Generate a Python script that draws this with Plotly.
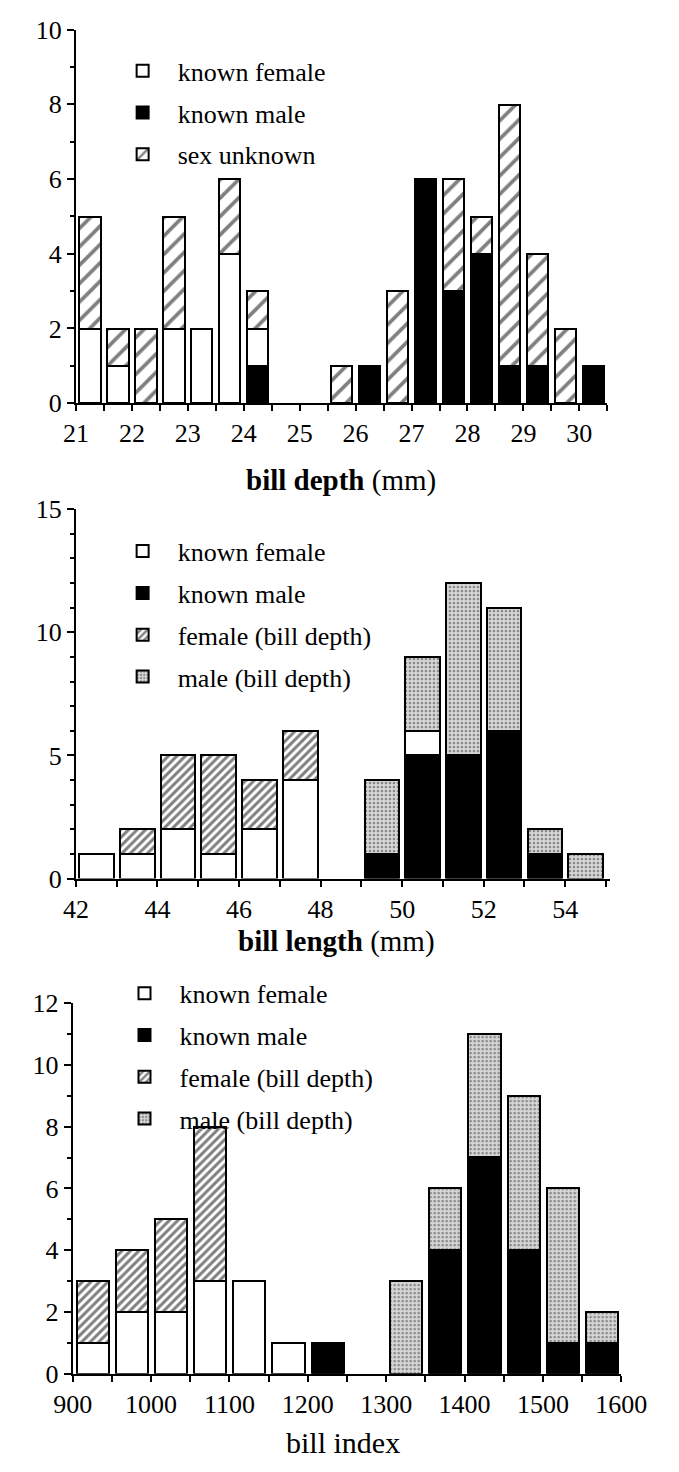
import plotly.graph_objects as go

# ---------------- data ----------------
depth_bins = [21.25, 21.75, 22.25, 22.75, 23.25, 23.75, 24.25, 24.75, 25.25, 25.75,
              26.25, 26.75, 27.25, 27.75, 28.25, 28.75, 29.25, 29.75, 30.25]
depth_female = [2, 1, 0, 2, 2, 4, 1, 0, 0, 0, 0, 0, 0, 0, 0, 0, 0, 0, 0]
depth_male = [0, 0, 0, 0, 0, 0, 1, 0, 0, 0, 1, 0, 6, 3, 4, 1, 1, 0, 1]
depth_unknown = [3, 1, 2, 3, 0, 2, 1, 0, 0, 1, 0, 3, 0, 3, 1, 7, 3, 2, 0]

length_bins = [42.5, 43.5, 44.5, 45.5, 46.5, 47.5, 48.5, 49.5, 50.5, 51.5, 52.5, 53.5, 54.5]
length_female = [1, 1, 2, 1, 2, 4, 0, 0, 1, 0, 0, 0, 0]
length_male = [0, 0, 0, 0, 0, 0, 0, 1, 5, 5, 6, 1, 0]
length_female_bd = [0, 1, 3, 4, 2, 2, 0, 0, 0, 0, 0, 0, 0]
length_male_bd = [0, 0, 0, 0, 0, 0, 0, 3, 3, 7, 5, 1, 1]

index_bins = [925, 975, 1025, 1075, 1125, 1175, 1225, 1275, 1325, 1375, 1425, 1475, 1525, 1575]
index_female = [1, 2, 2, 3, 3, 1, 0, 0, 0, 0, 0, 0, 0, 0]
index_male = [0, 0, 0, 0, 0, 0, 1, 0, 0, 4, 7, 4, 1, 1]
index_female_bd = [2, 2, 3, 5, 0, 0, 0, 0, 0, 0, 0, 0, 0, 0]
index_male_bd = [0, 0, 0, 0, 0, 0, 0, 0, 3, 2, 4, 5, 5, 1]

# ---------------- helpers ----------------
W, H = 679, 1472
FONT = "Liberation Serif"


def px(x):
    return x / W


def py(y):
    return 1 - y / H


def nz(vals):
    return [v if v else None for v in vals]


STYLES = {
    "male": dict(color="black"),
    "female": dict(color="white"),
    "hatch_sparse": dict(color="white", pattern=dict(shape="/", fgcolor="black", bgcolor="white",
                                                    size=13, solidity=0.28)),
    "hatch": dict(color="white", pattern=dict(shape="/", fgcolor="black", bgcolor="white",
                                             size=6, solidity=0.5)),
    "dots": dict(color="#d0d0d0", pattern=dict(shape=".", fgcolor="#333333", bgcolor="#d6d6d6",
                                              size=4, solidity=0.3)),
}

fig = go.Figure()


def add(x, y, name, style, xa, ya, legend, width, rank):
    st = STYLES[style]
    marker = dict(color=st["color"], line=dict(color="black", width=2))
    if "pattern" in st:
        marker["pattern"] = st["pattern"]
    fig.add_trace(go.Bar(x=x, y=nz(y), name=name, marker=marker, xaxis=xa, yaxis=ya,
                         width=width, legend=legend, legendgroup=legend + str(rank),
                         legendrank=rank, showlegend=True))


# top panel (stack: male, female, unknown)
add(depth_bins, depth_male, "known male", "male", "x", "y", "legend", 0.38, 2)
add(depth_bins, depth_female, "known female", "female", "x", "y", "legend", 0.38, 1)
add(depth_bins, depth_unknown, "sex unknown", "hatch_sparse", "x", "y", "legend", 0.38, 3)

# middle panel
add(length_bins, length_male, "known male", "male", "x2", "y2", "legend2", 0.85, 2)
add(length_bins, length_female, "known female", "female", "x2", "y2", "legend2", 0.85, 1)
add(length_bins, length_female_bd, "female (bill depth)", "hatch", "x2", "y2", "legend2", 0.85, 3)
add(length_bins, length_male_bd, "male (bill depth)", "dots", "x2", "y2", "legend2", 0.85, 4)

# bottom panel
add(index_bins, index_male, "known male", "male", "x3", "y3", "legend3", 41, 2)
add(index_bins, index_female, "known female", "female", "x3", "y3", "legend3", 41, 1)
add(index_bins, index_female_bd, "female (bill depth)", "hatch", "x3", "y3", "legend3", 41, 3)
add(index_bins, index_male_bd, "male (bill depth)", "dots", "x3", "y3", "legend3", 41, 4)

tickfont = dict(family=FONT, size=26, color="black")


def xax(domain, rng, dtick, minor, anchor):
    return dict(domain=domain, range=rng, dtick=dtick,
                showline=True, linecolor="black", linewidth=2, ticks="outside",
                ticklen=6, tickwidth=2, tickcolor="black", showgrid=False, zeroline=False,
                tickfont=tickfont, anchor=anchor, fixedrange=True,
                minor=dict(dtick=minor, ticks="outside", ticklen=6, tickwidth=2,
                           tickcolor="black", showgrid=False))


def yax(domain, rng, dtick, anchor):
    return dict(domain=domain, range=rng, dtick=dtick, showline=True, linecolor="black",
                linewidth=2, ticks="outside", ticklen=7, tickwidth=2, tickcolor="black",
                showgrid=False, zeroline=False, tickfont=tickfont, anchor=anchor,
                fixedrange=True,
                minor=dict(dtick=1, ticks="outside", ticklen=4, tickwidth=1.5,
                           tickcolor="black", showgrid=False))


legfont = dict(family=FONT, size=26, color="black")


def leg(x, y):
    return dict(x=x, y=y, xanchor="left", yanchor="top", font=legfont,
                bgcolor="rgba(0,0,0,0)", traceorder="grouped", tracegroupgap=5,
                itemwidth=60)


def title(text, x, y, size):
    return dict(text=text, x=px(x), y=py(y), xref="paper", yref="paper",
                xanchor="center", yanchor="middle", showarrow=False,
                font=dict(family=FONT, size=size, color="black"))


fig.update_layout(
    width=W, height=H, margin=dict(l=0, r=0, t=0, b=0),
    paper_bgcolor="white", plot_bgcolor="white",
    barmode="stack", bargap=0,
    font=dict(family=FONT, color="black"),
    xaxis=xax([px(60), px(630)], [21, 30.5], 1, 0.5, "y"),
    yaxis=yax([py(397), py(16)], [0, 10], 2, "x"),
    xaxis2=xax([px(60), px(633)], [42, 55.1], 2, 1, "y2"),
    yaxis2=yax([py(882), py(505)], [0, 15], 5, "x2"),
    xaxis3=xax([px(56.5), px(645)], [900, 1600], 100, 50, "y3"),
    yaxis3=yax([py(1387), py(1009)], [0, 12], 2, "x3"),
    legend=leg(px(94), py(34)),
    legend2=leg(px(94), py(524)),
    legend3=leg(px(96), py(975)),
    annotations=[
        title("<b>bill depth</b> (mm)", 344, 476, 29),
        title("<b>bill length</b> (mm)", 340, 946, 29),
        title("bill index", 347, 1457, 30),
    ],
)

fig.write_html("out.html", config={"displayModeBar": False},
               post_script="document.body.style.margin='0';document.body.style.overflow='hidden';")
